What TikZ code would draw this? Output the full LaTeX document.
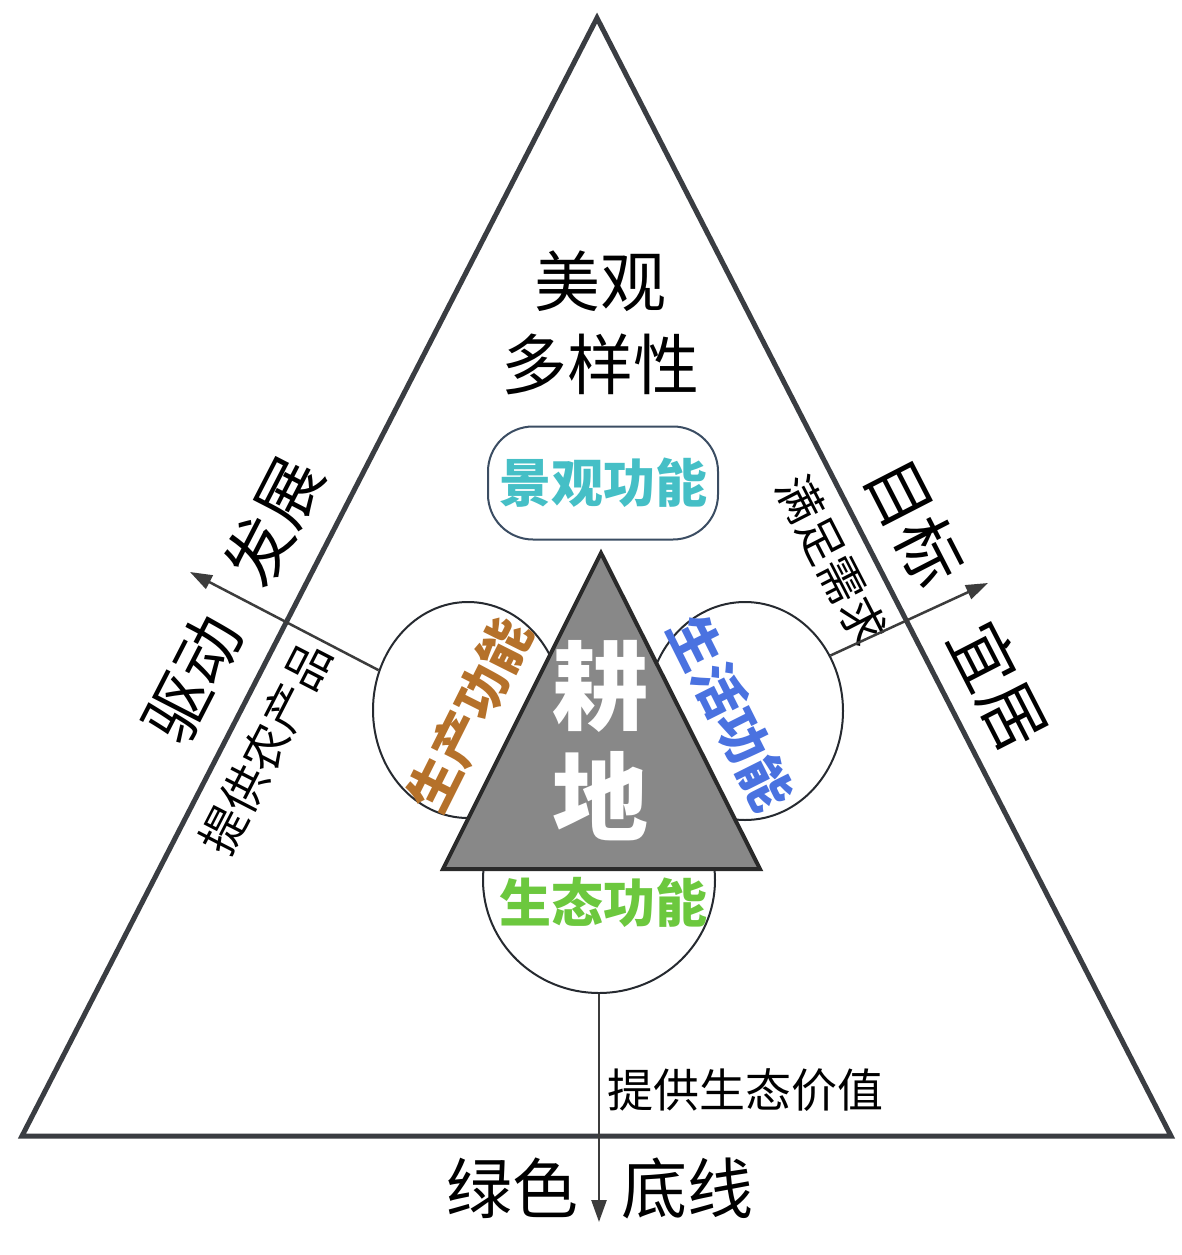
\documentclass[tikz,border=0pt]{standalone}
\usepackage{fontspec}
\newfontfamily\cjk{Noto Sans CJK SC}
\usetikzlibrary{arrows.meta,shapes.geometric}
\definecolor{outerc}{HTML}{3A3D42}
\definecolor{circc}{HTML}{262A30}
\definecolor{arrc}{HTML}{3C3C3C}
\definecolor{innerfill}{HTML}{888888}
\definecolor{innerline}{HTML}{2A2A2A}
\definecolor{boxc}{HTML}{3B4D63}
\definecolor{tealc}{HTML}{45BFC6}
\definecolor{brownc}{HTML}{B5712A}
\definecolor{bluec}{HTML}{4A72E0}
\definecolor{greenc}{HTML}{6CC83E}
\tikzset{
  outertri/.style={draw=outerc, line width=5pt, line join=miter},
  innertri/.style={draw=innerline, fill=innerfill, line width=4pt, line join=miter},
  func/.style={draw=circc, line width=2pt, fill=white, ellipse, inner sep=0pt},
  arr/.style={draw=arrc, line width=2.5pt, -{Triangle[length=22pt,width=15pt]}},
  bigtxt/.style={font=\cjk\fontsize{66}{66}\selectfont, inner sep=0pt},
  midtxt/.style={font=\cjk\fontsize{46}{46}\selectfont, inner sep=0pt},
  labtxt/.style={font=\cjk\bfseries\fontsize{52}{52}\selectfont, inner sep=0pt},
  coretxt/.style={font=\cjk\bfseries\fontsize{96}{96}\selectfont, inner sep=0pt, text=white}
}
\begin{document}
\begin{tikzpicture}[x=1pt,y=-1pt]
\useasboundingbox (0,0) rectangle (1181,1255);
\fill[white] (0,0) rectangle (1181,1255);
% outer triangle
\coordinate (A) at (597,18);
\coordinate (B) at (22,1136);
\coordinate (C) at (1171,1136);
\draw[outertri] (A) -- (B) -- (C) -- cycle;
% outer texts
\node[bigtxt] (meiguan) at (600,281) {美观};
\node[bigtxt] (duoyang) at (600,364) {多样性};
\node[bigtxt, rotate=62.8] (qudong) at (233,600) {驱动\hspace{45pt}发展};
\node[bigtxt, rotate=-62.8] (mubiao) at (957,604) {目标\hspace{52pt}宜居};
\node[bigtxt] (lvse) at (600,1188) {绿色\hspace{44pt}底线};
\node[midtxt, rotate=62.8] (nongchan) at (266,748) {提供农产品};
\node[midtxt, rotate=-62.8] (manzu) at (832,560) {满足需求};
\node[midtxt] (shengtaijz) at (745,1090) {提供生态价值};
% function circles
\node[func, minimum width=190pt, minimum height=216pt] (cl) at (468,710) {};
\node[func, minimum width=196pt, minimum height=218pt] (cr) at (745,711) {};
\node[func, minimum width=232pt, minimum height=226pt] (cb) at (599,880) {};
% arrows
\coordinate (tl) at (190,572);
\coordinate (tr) at (988,583);
\coordinate (tb) at (599,1222);
\draw[arr] (cl.156) -- (tl);
\draw[arr] (cr.33) -- (tr);
\draw[arr] (cb.south) -- (tb);
% inner triangle
\coordinate (P) at (601,553);
\coordinate (Q) at (443,869);
\coordinate (R) at (760,869);
\draw[innertri] (P) -- (Q) -- (R) -- cycle;
\node[coretxt] (geng) at (600,686) {耕};
\node[coretxt] (di) at (600,796) {地};
% landscape box
\node[draw=boxc, line width=2pt, rounded corners=45pt, minimum width=230pt, minimum height=113pt, labtxt, text=tealc] (jingguan) at (603,483) {景观功能};
% function labels
\node[labtxt, text=brownc, rotate=63.4] (shengchan) at (470,715) {生产功能};
\node[labtxt, text=bluec, rotate=-63.4] (shenghuo) at (731,713) {生活功能};
\node[labtxt, text=greenc] (shengtai) at (603,902) {生态功能};
\end{tikzpicture}
\end{document}
